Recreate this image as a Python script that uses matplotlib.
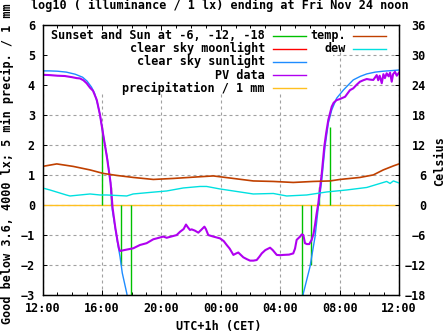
import numpy as np
import matplotlib
matplotlib.use("Agg")
import matplotlib.pyplot as plt
from matplotlib.patches import Rectangle

plt.rcParams["font.family"] = ["DejaVu Sans Mono"]
plt.rcParams["font.weight"] = "bold"
plt.rcParams["font.size"] = 8.5

# time axis: hours after Thu 12:00 (CET)
tick_hours = [0, 4, 8, 12, 16, 20, 24]
tick_labels = ["12:00", "16:00", "20:00", "00:00", "04:00", "08:00", "12:00"]

# sunset/sunrise and sun at -6, -12, -18 deg (impulses)
sun_t = [3.98, 4.63, 5.28, 5.95, 17.45, 18.05, 18.63, 19.33]
sun_v = [2.6, 0.6, -2.0, -4.0, -4.0, -2.0, 0.6, 2.6]

# clear sky sunlight, log10(lx)
clear_t = [0, 0.5, 1.0, 1.6, 2.2, 2.7, 3.0, 3.3, 3.5, 3.7, 3.87, 4.0, 4.2, 4.35,
           4.58, 4.7, 4.88, 5.1, 5.22, 5.37, 5.67, 5.8, 5.9,
           12.0,
           17.5, 17.56, 18.01, 18.35, 18.57, 18.8, 19.02, 19.24, 19.47, 19.8,
           20.25, 20.7, 20.92, 21.4, 21.83, 22.4, 22.94, 23.5, 24]
clear_v = [4.46, 4.46, 4.45, 4.42, 4.35, 4.25, 4.12, 3.92, 3.72, 3.38, 3.0, 2.6, 2.0, 1.6,
           0.73, -0.17, -0.72, -1.39, -1.72, -2.26, -2.93, -3.3, -3.6,
           np.nan,
           -3.3, -2.94, -2.05, -1.05, -0.06, 0.83, 1.94, 2.72, 3.16, 3.55,
           3.82, 4.05, 4.16, 4.28, 4.36, 4.42, 4.45, 4.47, 4.49]

# PV sensor data, log10(lx)
pv_t = [0, 0.5, 1.0, 1.5, 2.0, 2.3, 2.52, 2.75, 2.97, 3.2, 3.4, 3.65, 3.87, 4.0, 4.2,
        4.35, 4.58, 4.72, 4.9, 5.05, 5.15, 5.22, 5.5, 6.11, 6.56, 7.01, 7.46, 7.69,
        8.13, 8.36, 9.03, 9.26, 9.5, 9.66, 9.8, 9.93, 10.04, 10.25, 10.49, 10.7, 10.9,
        11.0, 11.16, 11.5, 11.95, 12.2, 12.4, 12.6, 12.85, 13.0, 13.18, 13.35, 13.52,
        13.75, 13.97, 14.2, 14.42, 14.6, 14.76, 15.0, 15.32, 15.5, 15.77, 16.0, 16.21,
        16.6, 16.88, 17.0, 17.11, 17.34, 17.45, 17.56, 17.67, 17.8, 17.96, 18.12,
        18.25, 18.35, 18.45, 18.57, 18.8, 18.97, 19.1, 19.24, 19.47, 19.6, 19.8, 20.0,
        20.37, 20.55, 20.7, 20.92, 21.15, 21.37, 21.6, 21.83, 22.05, 22.27, 22.4, 22.5,
        22.6, 22.7, 22.84, 22.95, 23.05, 23.17, 23.3, 23.4, 23.51, 23.6, 23.73, 23.85, 24]
pv_v = [4.33, 4.32, 4.30, 4.29, 4.25, 4.22, 4.21, 4.15, 4.05, 3.9, 3.8, 3.5, 3.0, 2.6, 2.0,
        1.55, 0.75, -0.1, -0.75, -1.2, -1.45, -1.53, -1.5, -1.44, -1.33, -1.27, -1.14, -1.11,
        -1.05, -1.09, -1.0, -0.89, -0.8, -0.65, -0.75, -0.83, -0.81, -0.85, -0.92, -0.82, -0.72,
        -0.8, -1.0, -1.05, -1.11, -1.2, -1.33, -1.45, -1.66, -1.62, -1.58, -1.66, -1.74,
        -1.8, -1.85, -1.85, -1.83, -1.72, -1.61, -1.5, -1.42, -1.5, -1.66, -1.67, -1.66,
        -1.65, -1.61, -1.45, -1.16, -1.05, -0.98, -1.0, -1.27, -1.3, -1.3, -1.16,
        -0.95, -0.65, -0.3, 0.06, 1.05, 1.94, 2.4, 2.83, 3.27, 3.4, 3.49, 3.52,
        3.6, 3.72, 3.82, 3.88, 4.0, 4.1, 4.15, 4.19, 4.17, 4.16, 4.25, 4.32,
        4.15, 4.3, 4.05, 4.35, 4.22, 4.38, 4.28, 4.4, 4.1, 4.35, 4.43, 4.3, 4.4]

# 5 min precipitation (none)
precip_t = [0, 24]
precip_v = [0.0, 0.0]

# temperature and dew point, Celsius
temp_t = [0, 0.96, 2.07, 3.2, 4.09, 5.0, 6.11, 7.46, 8.8, 10.38, 11.5, 12.85, 14.19,
          15.54, 16.88, 18.23, 19.35, 20.03, 21.37, 22.27, 22.94, 23.62, 24]
temp_v = [7.7, 8.2, 7.7, 7.0, 6.3, 5.9, 5.5, 5.1, 5.3, 5.6, 5.8, 5.3, 4.8,
          4.7, 4.5, 4.7, 4.8, 5.1, 5.5, 6.0, 7.0, 7.8, 8.2]
dew_t = [0, 0.5, 1.6, 1.85, 3.2, 3.87, 4.32, 5.67, 6.1, 7.2, 8.36, 9.48, 10.6, 11.05,
         11.95, 12.85, 14.19, 15.54, 16.44, 17.79, 19.13, 20.48, 21.83, 23.17, 23.4, 23.62, 24]
dew_v = [3.4, 3.0, 2.0, 1.8, 2.2, 2.0, 2.0, 1.8, 2.2, 2.5, 2.8, 3.4, 3.7, 3.7,
         3.2, 2.8, 2.2, 2.3, 1.8, 2.0, 2.6, 3.0, 3.5, 4.7, 4.3, 4.8, 4.4]

fig = plt.figure(figsize=(4.47, 3.35), dpi=100)
pos = [42.5 / 447, 1 - 295.2 / 335, 356.5 / 447, 270.6 / 335]

# grid on its own axes behind everything
axg = fig.add_axes(pos)
axg.set_xlim(0, 24)
axg.set_ylim(-3, 6)
axg.set_xticks(tick_hours)
axg.set_yticks(range(-3, 7))
axg.grid(True, color="#a0a0a0", lw=0.8, linestyle=(0, (2.7, 2.7)))
axg.tick_params(length=0, labelleft=False, labelbottom=False)
for s in axg.spines.values():
    s.set_visible(False)

ax = fig.add_axes(pos)
ax.patch.set_visible(False)
ax.set_xlim(0, 24)
ax.set_ylim(-3, 6)

# opaque key area
ax.add_patch(Rectangle((0, 0.747), 0.815, 0.253, transform=ax.transAxes,
                       facecolor="white", edgecolor="none", zorder=1))
ax.add_patch(Rectangle((0.7475, 0.899), 0.233, 0.101, transform=ax.transAxes,
                       facecolor="white", edgecolor="none", zorder=1))

ax.plot(precip_t, precip_v, color="#ffc020", lw=1.0, zorder=2)
ax.vlines(sun_t, 0, sun_v, color="#00c000", lw=1.0, zorder=2)
ax.plot(clear_t, clear_v, color="#1e8cff", lw=1.0, zorder=2.1)
ax.plot(pv_t, pv_v, color="#b000f0", lw=1.5, zorder=2.2)

ax.set_xticks(tick_hours)
ax.set_xticklabels(tick_labels)
ax.set_xticks(range(25), minor=True)
ax.set_yticks(range(-3, 7))
ax.tick_params(axis="x", which="major", direction="in", length=3.4, width=0.7,
               top=True, pad=5)
ax.tick_params(axis="x", which="minor", direction="in", length=2.2, width=0.7, top=True)
ax.tick_params(axis="y", direction="in", length=3.0, width=0.7, pad=5.4, right=False)
for s in ax.spines.values():
    s.set_linewidth(0.9)

ax2 = ax.twinx()
ax2.set_ylim(-18, 36)
ax2.set_yticks(range(-18, 37, 6))
ax2.plot(temp_t, temp_v, color="#c04000", lw=1.2)
ax2.plot(dew_t, dew_v, color="#00e0e0", lw=1.0)
ax2.tick_params(axis="y", direction="in", length=3.0, width=0.7, pad=19.4)
for t in ax2.get_yticklabels():
    t.set_ha("right")
for s in ax2.spines.values():
    s.set_linewidth(0.9)

# key, gnuplot style: right aligned text, sample to the right
left_keys = [("Sunset and Sun at -6, -12, -18", "#00c000"),
             ("clear sky moonlight", "#ff0000"),
             ("clear sky sunlight", "#1e8cff"),
             ("PV data", "#b000f0"),
             ("precipitation / 1 mm", "#ffc020")]
right_keys = [("temp.", "#c04000"), ("dew", "#00e0e0")]
row_base = [39.3, 52.4, 65.5, 78.6, 91.7]


def key_row(xtext, xs0, xs1, ybase, text, color):
    fy = (295.2 - ybase) / 270.6
    fl = (295.2 - ybase + 3.8) / 270.6
    ax.text(xtext, fy, text, transform=ax.transAxes, ha="right", va="baseline", zorder=5)
    ax.plot([xs0, xs1], [fl, fl], color=color, lw=1.0, transform=ax.transAxes,
            clip_on=False, zorder=5)


for (txt, col), yb in zip(left_keys, row_base):
    key_row(0.624, 0.647, 0.738, yb, txt, col)
for (txt, col), yb in zip(right_keys, row_base):
    key_row(0.851, 0.872, 0.963, yb, txt, col)

fig.text(0.491, 1 - 9.5 / 335, "log10 ( illuminance / 1 lx) ending at Fri Nov 24 noon",
         ha="center", va="baseline")
fig.text(7 / 447, 0.512, "Good below 3.6, 4000 lx; 5 min precip. / 1 mm",
         rotation=90, ha="center", va="center")
fig.text(440 / 447, 0.519, "Celsius", rotation=90, ha="center", va="center")
fig.text(0.489, 1 - 326.5 / 335, "UTC+1h (CET)", ha="center", va="center")

fig.savefig("out.png", dpi=100)
